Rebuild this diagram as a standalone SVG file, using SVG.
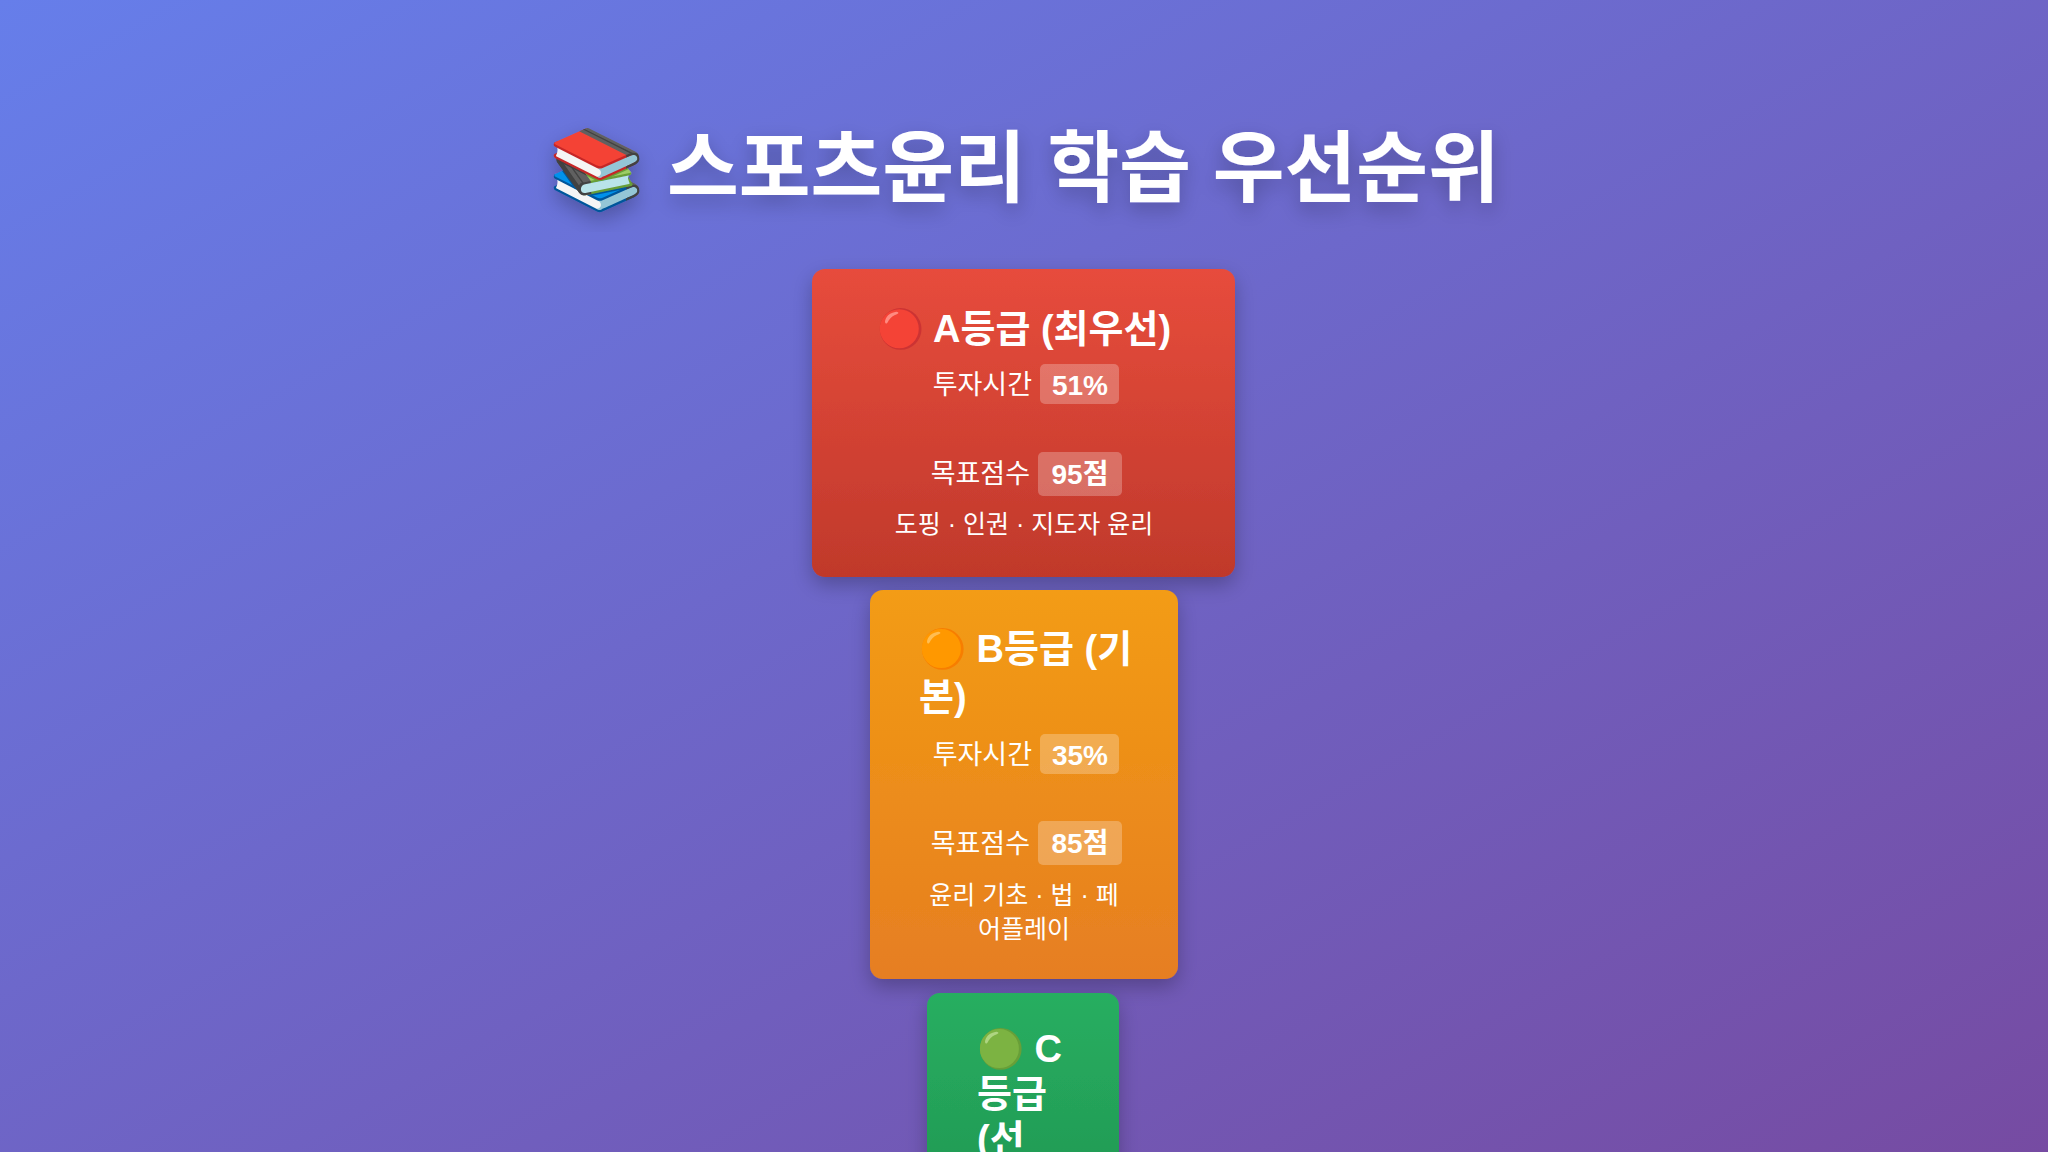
<svg xmlns="http://www.w3.org/2000/svg" width="2048" height="1152" viewBox="0 0 2048 1152">
<defs>
<linearGradient id="bg" x1="0" y1="0" x2="1" y2="1"><stop offset="0" stop-color="#667eea"/><stop offset="1" stop-color="#764ba2"/></linearGradient>
<linearGradient id="ga" x1="0" y1="0" x2="0" y2="1"><stop offset="0" stop-color="#e74c3c"/><stop offset="1" stop-color="#c0392b"/></linearGradient>
<linearGradient id="gb" x1="0" y1="0" x2="0" y2="1"><stop offset="0" stop-color="#f39c12"/><stop offset="1" stop-color="#e67e22"/></linearGradient>
<linearGradient id="gc" x1="0" y1="0" x2="0" y2="1"><stop offset="0" stop-color="#27ae60"/><stop offset="1" stop-color="#229954"/></linearGradient>
<filter id="sh" x="-20%" y="-20%" width="140%" height="140%"><feDropShadow dx="0" dy="8" stdDeviation="10" flood-color="#000" flood-opacity="0.25"/></filter>
</defs>
<style>
text{font-family:"Liberation Sans","Noto Sans CJK KR",sans-serif;fill:#fff}
.t{font-size:38px;font-weight:bold}
.l{font-size:27px;text-anchor:end}
.bv{font-size:28px;font-weight:bold;text-anchor:middle}
.bd{fill:#fff;fill-opacity:0.25}
.d{font-size:25px;text-anchor:middle}
</style>
<rect width="2048" height="1152" fill="url(#bg)"/>
<text x="1024" y="196" font-size="78" font-weight="bold" text-anchor="middle" filter="url(#sh)">📚 스포츠윤리 학습 우선순위</text>
<g id="gradeA">
<rect x="812" y="269" width="423" height="308" rx="13" fill="url(#ga)" filter="url(#sh)"/>
<text class="t" x="1024" y="342" text-anchor="middle">🔴 A등급 (최우선)</text>
<text class="l" x="1032" y="394">투자시간</text>
<rect class="bd" x="1040" y="364" width="79" height="40" rx="5"/>
<text class="bv" x="1080" y="395">51%</text>
<text class="l" x="1030" y="483">목표점수</text>
<rect class="bd" x="1038" y="452" width="84" height="44" rx="5"/>
<text class="bv" x="1080" y="484">95점</text>
<text class="d" x="1024" y="533">도핑 · 인권 · 지도자 윤리</text>
</g>
<g id="gradeB">
<rect x="870" y="590" width="308" height="389" rx="13" fill="url(#gb)" filter="url(#sh)"/>
<text class="t" x="919" y="662">🟠 B등급 (기</text>
<text class="t" x="919" y="710">본)</text>
<text class="l" x="1032" y="764">투자시간</text>
<rect class="bd" x="1040" y="734" width="79" height="40" rx="5"/>
<text class="bv" x="1080" y="765">35%</text>
<text class="l" x="1030" y="853">목표점수</text>
<rect class="bd" x="1038" y="821" width="84" height="44" rx="5"/>
<text class="bv" x="1080" y="853">85점</text>
<text class="d" x="1024" y="904">윤리 기초 · 법 · 페</text>
<text class="d" x="1024" y="938">어플레이</text>
</g>
<g id="gradeC">
<rect x="927" y="993" width="192" height="200" rx="13" fill="url(#gc)" filter="url(#sh)"/>
<text class="t" x="977" y="1062">🟢 C</text>
<text class="t" x="977" y="1107">등급</text>
<text class="t" x="977" y="1152">(선</text>
</g>
<g id="connectors"/>
</svg>
